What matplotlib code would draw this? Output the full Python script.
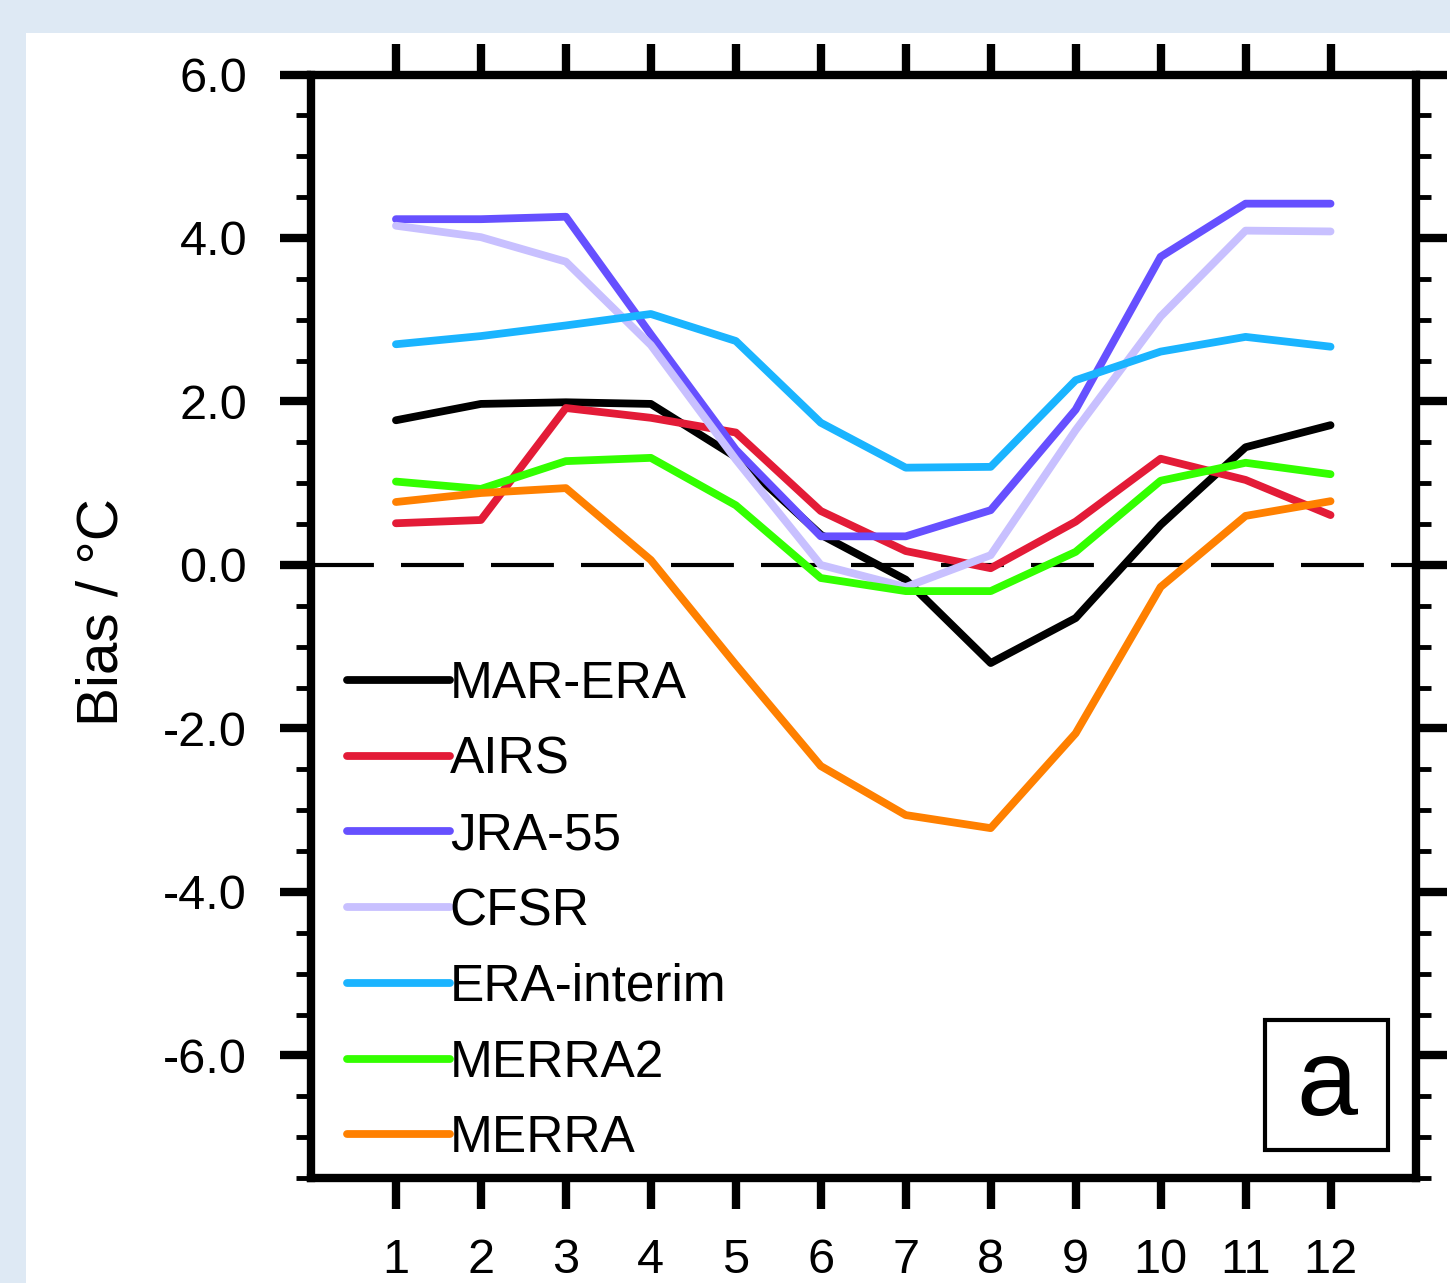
import numpy as np
import matplotlib
matplotlib.use("Agg")
import matplotlib.pyplot as plt
from matplotlib.patches import Rectangle

plt.rcParams['font.family'] = ['Liberation Sans', 'DejaVu Sans']
plt.rcParams['axes.unicode_minus'] = False

# monthly bias values
months = [1, 2, 3, 4, 5, 6, 7, 8, 9, 10, 11, 12]
mar_era = [1.77, 1.97, 1.99, 1.97, 1.32, 0.37, -0.18, -1.20, -0.65, 0.49, 1.44, 1.71]
airs = [0.51, 0.55, 1.92, 1.80, 1.62, 0.66, 0.17, -0.04, 0.53, 1.30, 1.04, 0.61]
jra55 = [4.23, 4.23, 4.26, 2.82, 1.41, 0.35, 0.35, 0.67, 1.90, 3.77, 4.42, 4.42]
cfsr = [4.15, 4.01, 3.71, 2.69, 1.29, 0.00, -0.27, 0.12, 1.65, 3.04, 4.09, 4.08]
era_interim = [2.70, 2.80, 2.93, 3.07, 2.74, 1.74, 1.19, 1.20, 2.26, 2.61, 2.79, 2.67]
merra2 = [1.02, 0.93, 1.27, 1.31, 0.73, -0.16, -0.32, -0.32, 0.16, 1.03, 1.25, 1.11]
merra = [0.77, 0.88, 0.94, 0.06, -1.22, -2.46, -3.06, -3.22, -2.06, -0.27, 0.60, 0.78]

names = ["MAR-ERA", "AIRS", "JRA-55", "CFSR", "ERA-interim", "MERRA2", "MERRA"]
colors = ["#000000", "#e31b37", "#6650ff", "#c8c0ff", "#1ab4ff", "#33ff00", "#ff8000"]
series = [mar_era, airs, jra55, cfsr, era_interim, merra2, merra]

yticks = [-6.0, -4.0, -2.0, 0.0, 2.0, 4.0, 6.0]
ytick_labels = ["-6.0", "-4.0", "-2.0", "0.0", "2.0", "4.0", "6.0"]

W, H = 1450, 1283
fig = plt.figure(figsize=(W / 100, H / 100), dpi=100)
fig.patch.set_facecolor("#dee9f4")
# white panel behind everything
fig.patches.append(Rectangle((26 / W, 0), 1 - 26 / W, 1 - 33 / H,
                             transform=fig.transFigure, facecolor="white",
                             edgecolor="none", zorder=-5))

ax = fig.add_axes([311 / W, 1 - 1178 / H, (1415.5 - 311) / W, (1178 - 74.5) / H])
ax.set_zorder(2)
ax.set_facecolor("white")

ax.axhline(0, color="black", lw=3, dashes=(15.1, 6.5), zorder=1)

for name, col, vals in zip(names, colors, series):
    ax.plot(months, vals, color=col, lw=5.6, label=name,
            solid_capstyle="round", solid_joinstyle="round", zorder=2)

ax.set_xlim(0, 13)
ax.set_ylim(-7.5, 6.0)
ax.set_xticks(months)
ax.set_xticklabels([str(m) for m in months])
ax.set_yticks(yticks)
ax.set_yticklabels(ytick_labels)
ax.set_yticks(np.arange(-7.5, 6.01, 0.5), minor=True)

for s in ax.spines.values():
    s.set_linewidth(6)
ax.tick_params(axis="both", which="major", direction="out", length=22, width=6,
               labelsize=35)
ax.tick_params(axis="y", which="major", pad=24, left=True, right=True)
ax.tick_params(axis="x", which="major", pad=21, top=True, bottom=True)
ax.tick_params(axis="y", which="minor", direction="out", length=11, width=3.5,
               left=True, right=True)
ax.tick_params(axis="x", which="minor", bottom=False, top=False)

fig.text(103 / W, 1 - 612 / H, "Bias / \u00b0C", rotation=90, fontsize=42,
         ha="center", va="center")

leg = ax.legend(loc="upper left", bbox_to_anchor=(0.0326, 1 - (660 - 74.5) / 1103.5),
                frameon=False, fontsize=37, handlelength=2.0, handletextpad=0.0,
                labelspacing=0.52, borderpad=0, borderaxespad=0)
for line in leg.get_lines():
    line.set_solid_capstyle("round")

# panel label box
ax.add_patch(Rectangle((0.8637, 0.0254), 0.1114, 0.1178, transform=ax.transAxes,
                       facecolor="white", edgecolor="black", lw=3, zorder=5))
ax.text(0.9194, 0.0571, "a", transform=ax.transAxes, fontsize=79,
        ha="center", va="baseline", zorder=6)

fig.savefig("out.png", dpi=100, facecolor=fig.get_facecolor())
